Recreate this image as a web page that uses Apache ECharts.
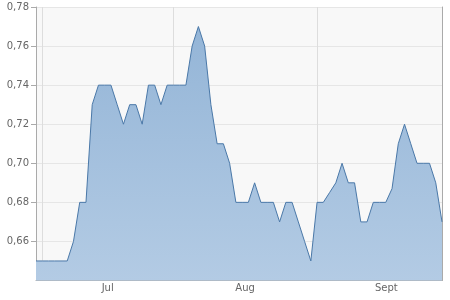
<!DOCTYPE html>
<html>
<head>
<meta charset="utf-8">
<script src="https://cdn.jsdelivr.net/npm/echarts@6/dist/echarts.min.js"></script>
<style>html,body{margin:0;padding:0;background:#fff}#c{width:450px;height:300px}</style>
</head>
<body>
<div id="c"></div>
<script>
// Trading days (2023), Jun 30 .. Sep 29
var dates = ['06-30',
 '07-03','07-04','07-05','07-06','07-07','07-10','07-11','07-12','07-13','07-14','07-17','07-18','07-19','07-20','07-21','07-24','07-25','07-26','07-27','07-28','07-31',
 '08-01','08-02','08-03','08-04','08-07','08-08','08-09','08-10','08-11','08-14','08-15','08-16','08-17','08-18','08-21','08-22','08-23','08-24','08-25','08-28','08-29','08-30','08-31',
 '09-01','09-04','09-05','09-06','09-07','09-08','09-11','09-12','09-13','09-14','09-15','09-18','09-19','09-20','09-21','09-22','09-25','09-26','09-27','09-28','09-29'];
var prices = [0.65,0.65,0.65,0.65,0.65,0.65,0.66,0.68,0.68,0.73,
 0.74,0.74,0.74,0.73,0.72,0.73,0.73,0.72,0.74,0.74,
 0.73,0.74,0.74,0.74,0.74,0.76,0.77,0.76,0.73,0.71,
 0.71,0.70,0.68,0.68,0.68,0.69,0.68,0.68,0.68,0.67,
 0.68,0.68,0.67,0.66,0.65,0.68,0.68,0.685,0.69,0.70,
 0.69,0.69,0.67,0.67,0.68,0.68,0.68,0.687,0.71,0.72,
 0.71,0.70,0.70,0.70,0.69,0.67];
var monthStarts = ['07-03','08-01','09-01'];
var monthLabelDates = ['07-17','08-16','09-18'];
var monthLabelTexts = ['Jul','Aug','Sept'];
var monthLabelShift = [6,6,1];
var yTicks = [0.66,0.68,0.70,0.72,0.74,0.76,0.78];

var rich = {};
monthLabelTexts.forEach(function(t,k){ rich['m'+k] = {padding:[0,0,0,monthLabelShift[k]],fontSize:10,color:'#666666',fontFamily:'DejaVu Sans'}; });

var chart = echarts.init(document.getElementById('c'), null, {renderer:'canvas'});
chart.setOption({
  animation:false,
  backgroundColor:'#ffffff',
  textStyle:{fontFamily:'DejaVu Sans'},
  grid:{left:36,right:8,top:7,bottom:19.5,show:true,backgroundColor:'#f8f8f8',borderWidth:0},
  xAxis:{
    type:'category', data:dates, boundaryGap:false,
    axisLine:{show:true,lineStyle:{color:'#aaaaaa',width:1}},
    axisTick:{show:false},
    axisLabel:{
      margin:3, color:'#666666', fontSize:10, fontFamily:'DejaVu Sans',
      interval:function(i,v){return monthLabelDates.indexOf(v)>=0;},
      formatter:function(v){var k=monthLabelDates.indexOf(v);return k>=0?'{m'+k+'|'+monthLabelTexts[k]+'}':'';},
      rich:rich
    },
    splitLine:{show:true,interval:function(i,v){return monthStarts.indexOf(v)>=0;},lineStyle:{color:'#dddddd',width:1}}
  },
  yAxis:[{
    type:'value', min:0.64, max:0.78, interval:0.02,
    axisLine:{show:true,lineStyle:{color:'#aaaaaa',width:1}},
    axisTick:{show:true,length:5,customValues:yTicks,lineStyle:{color:'#aaaaaa'}},
    axisLabel:{margin:7,color:'#666666',fontSize:10,fontFamily:'DejaVu Sans',customValues:yTicks,
      formatter:function(v){ return v.toFixed(2).replace('.',','); }},
    splitLine:{show:true,lineStyle:{color:'#e6e6e6',width:1}}
  },{
    type:'value', min:0.64, max:0.78, position:'right',
    axisLine:{show:true,lineStyle:{color:'#aaaaaa',width:1}},
    axisTick:{show:false}, axisLabel:{show:false}, splitLine:{show:false}
  }],
  series:[{
    type:'line', data:prices, symbol:'none', yAxisIndex:0,
    lineStyle:{color:'#4a78a8',width:1},
    areaStyle:{opacity:1,color:new echarts.graphic.LinearGradient(0,0,0,1,[{offset:0,color:'#94b5d7'},{offset:1,color:'#b3cbe4'}])}
  }]
});
</script>
</body>
</html>
